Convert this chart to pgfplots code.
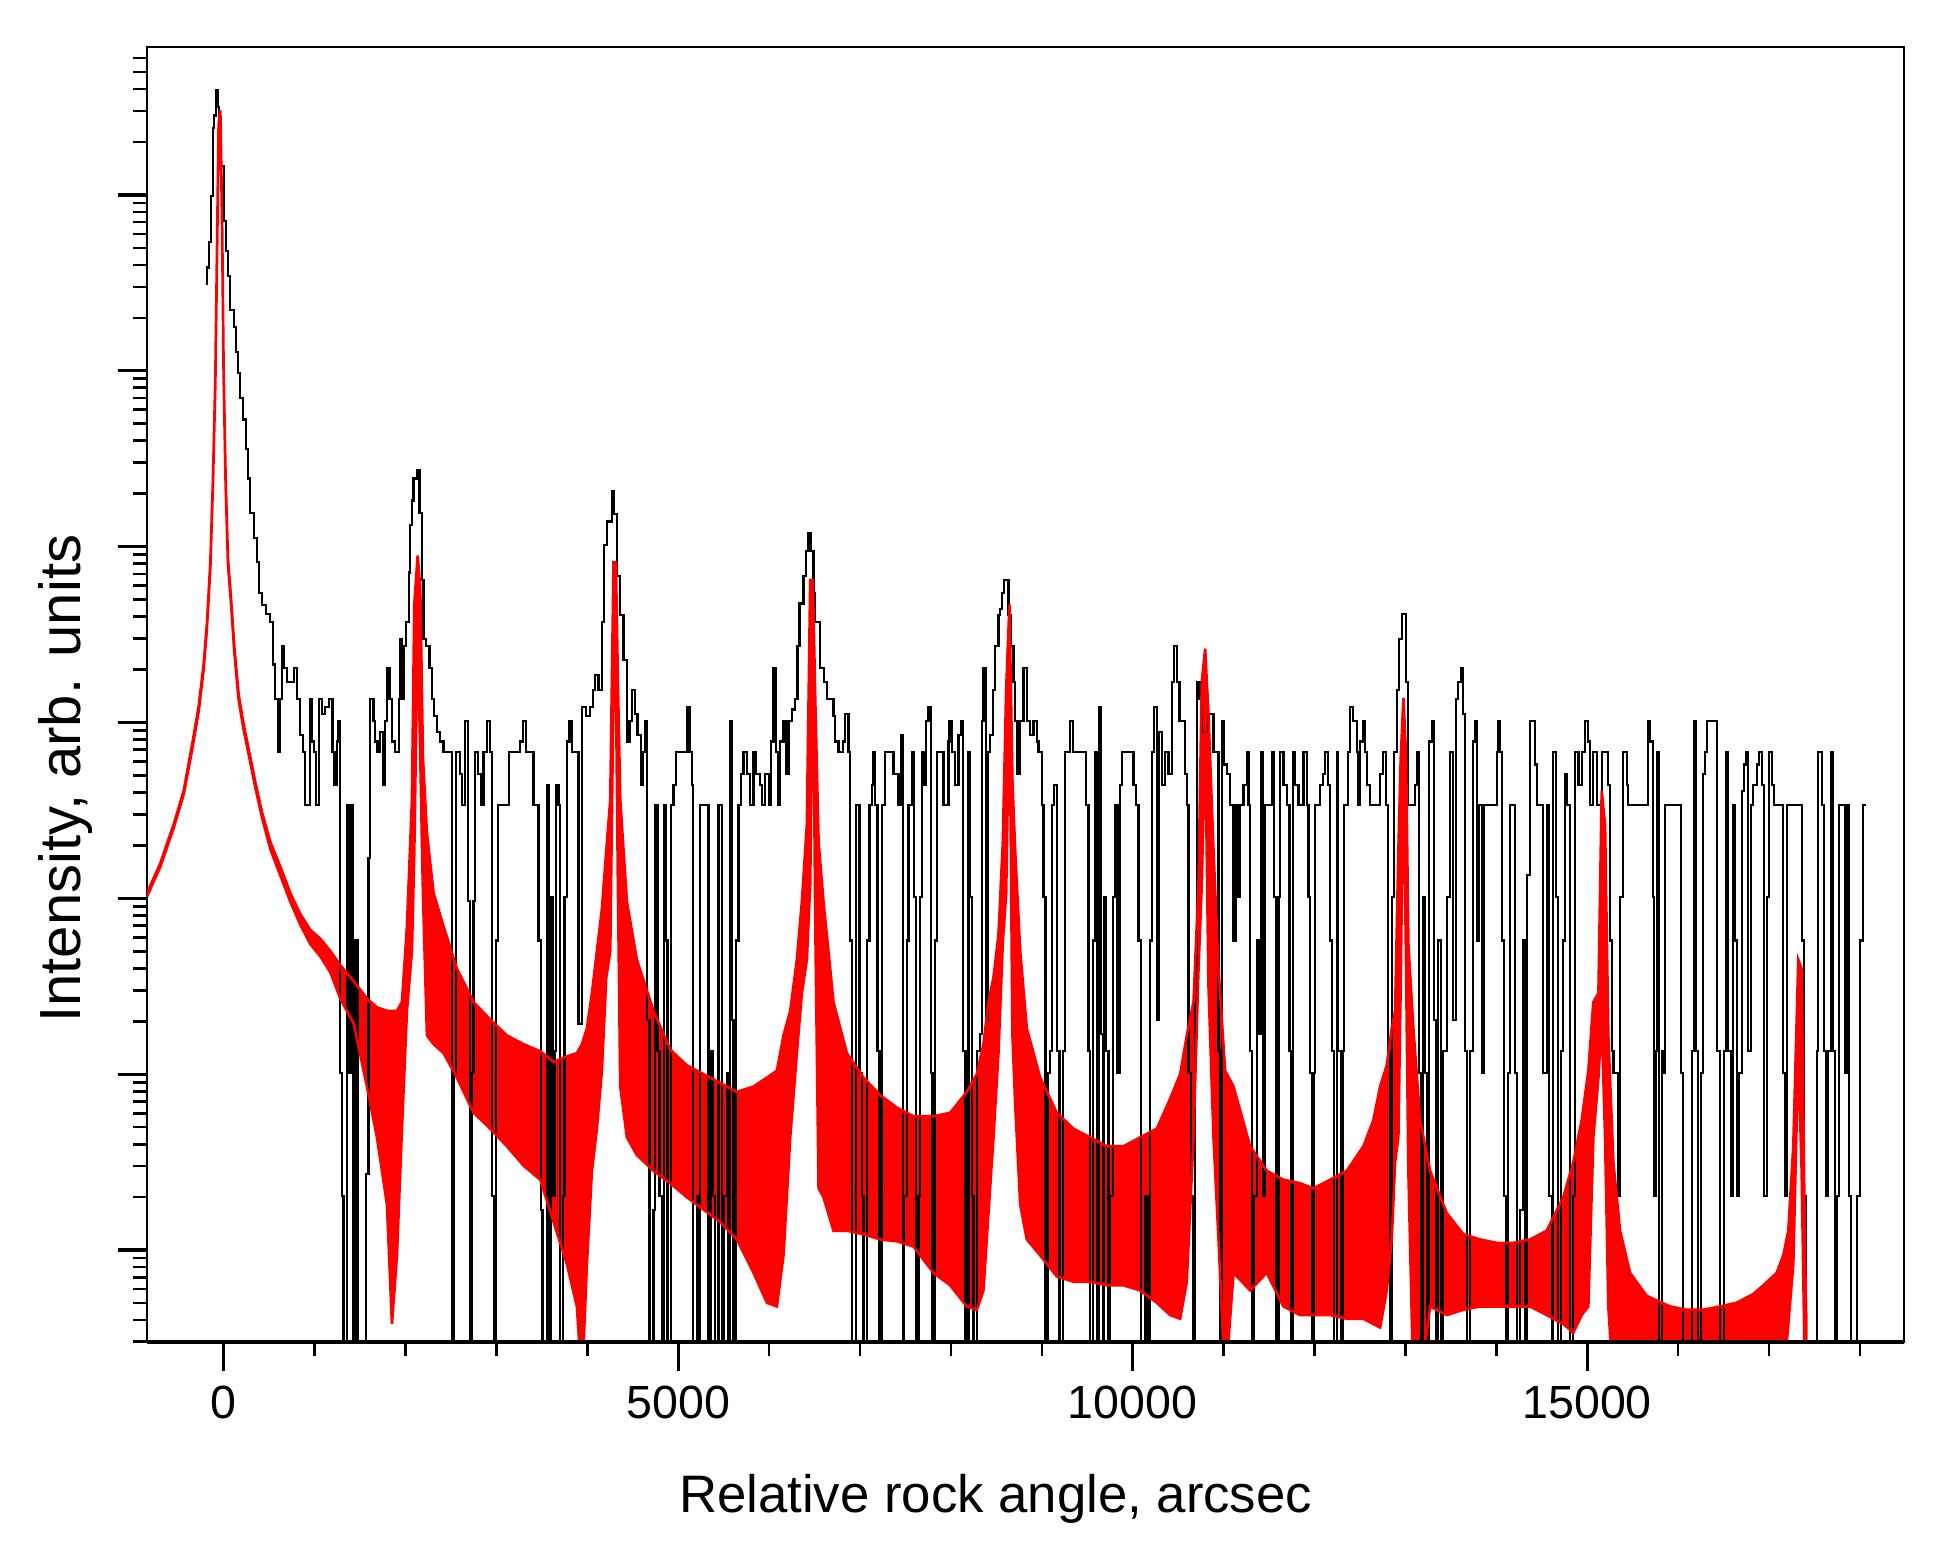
\documentclass[border=0pt]{standalone}
\usepackage{fontspec}
\setmainfont{Liberation Sans}
\usepackage{pgfplots}
\usepackage{pgfplotstable}
\pgfplotsset{compat=1.18}

% simulated curve: upper envelope (forward), then lower envelope (backward)
\pgfplotstableread{
x y
-845 0.316
-698 0.468
-552 0.776
-442 1.202
-350 2.188
-277 3.631
-222 6.31
-185 10.96
-148 23.99
-119 72.44
-93 269.2
-75 1413
-57 7413
-38 8913
-20 2455
-2 302
20 72.44
46 25.12
79 15.14
116 7.943
163 4.266
218 2.884
273 2.089
347 1.349
420 0.912
512 0.617
622 0.447
732 0.316
842 0.240
952 0.195
1062 0.174
1172 0.148
1282 0.123
1428 0.100
1575 0.0794
1685 0.0708
1795 0.0676
1850 0.0676
1905 0.0676
1960 0.0759
2015 0.204
2070 1.072
2096 13.8
2133 26.3
2162 16.98
2191 1.862
2235 0.692
2308 0.316
2418 0.204
2565 0.1175
2748 0.0759
2932 0.0603
3115 0.049
3298 0.0437
3482 0.0398
3628 0.0347
3775 0.0372
3885 0.0389
3940 0.0437
3995 0.0537
4050 0.0851
4105 0.148
4160 0.257
4208 0.550
4252 1.072
4288 23.99
4314 23.99
4336 5.012
4362 1.072
4435 0.282
4545 0.132
4728 0.0676
4912 0.0407
5095 0.0331
5278 0.0295
5462 0.0263
5645 0.0234
5828 0.0251
5975 0.0282
6085 0.0309
6158 0.049
6232 0.0676
6305 0.132
6360 0.282
6415 0.776
6452 19.05
6481 19.05
6507 4.074
6544 0.617
6598 0.282
6708 0.0759
6855 0.0389
7039 0.0282
7222 0.0224
7405 0.01905
7588 0.0170
7808 0.0170
7992 0.0178
8175 0.0234
8285 0.0295
8358 0.0437
8413 0.0759
8468 0.1047
8523 0.182
8571 0.617
8608 4.571
8644 13.8
8677 1.349
8707 0.550
8762 0.148
8835 0.0537
8982 0.0282
9165 0.0178
9348 0.01445
9532 0.0129
9715 0.01148
9898 0.01148
10082 0.0129
10265 0.01445
10412 0.0214
10522 0.0295
10595 0.049
10669 0.0759
10724 0.355
10760 5.012
10797 7.762
10834 3.236
10889 0.550
10944 0.1175
11017 0.0309
11109 0.0251
11292 0.01148
11475 0.00832
11658 0.00741
11842 0.00708
11988 0.00661
12172 0.00741
12355 0.00832
12538 0.01148
12648 0.0162
12722 0.0251
12795 0.0331
12850 0.0537
12887 0.0676
12923 0.550
12949 1.862
12979 4.074
13008 1.862
13033 0.162
13088 0.0537
13162 0.0162
13272 0.00832
13455 0.00479
13638 0.00363
13822 0.00339
14005 0.00324
14188 0.00324
14372 0.00339
14555 0.0038
14738 0.00589
14848 0.00933
14940 0.0162
15013 0.0309
15068 0.0759
15124 0.0851
15160 1.202
15197 0.776
15233 0.049
15288 0.00933
15362 0.0038
15472 0.00219
15655 0.00162
15912 0.00141
16095 0.00135
16278 0.00135
16462 0.00141
16645 0.00148
16828 0.00166
16938 0.00186
17085 0.00219
17158 0.00275
17213 0.0038
17268 0.01148
17323 0.132
17360 0.1175
17397 0.00275
17410 0.00126
17410 0.0004
17397 0.0005
17360 0.00832
17323 0.0389
17268 0.00245
17213 0.00112
17158 0.0005
17085 0.0005
16938 0.0005
16828 0.0005
16645 0.0005
16462 0.0005
16278 0.0005
16095 0.0005
15912 0.0005
15655 0.0005
15472 0.0005
15362 0.0005
15288 0.0005
15233 0.00141
15197 0.0129
15160 0.0603
15124 0.0282
15068 0.0129
15013 0.00141
14940 0.00126
14848 0.001
14738 0.00112
14555 0.00126
14372 0.00141
14188 0.00141
14005 0.00141
13822 0.00141
13638 0.00135
13455 0.00126
13272 0.00141
13162 0.0005
13088 0.0005
13033 0.00832
13008 0.1175
12979 1.862
12949 0.1
12923 0.0129
12887 0.00933
12850 0.00339
12795 0.00174
12722 0.00107
12648 0.00112
12538 0.0012
12355 0.0012
12172 0.00126
11988 0.00126
11842 0.00126
11658 0.00141
11475 0.00219
11292 0.00174
11109 0.00219
11017 0.0005
10944 0.00339
10889 0.0129
10834 0.0933
10797 2.63
10760 0.355
10724 0.1175
10669 0.0129
10595 0.00195
10522 0.0012
10412 0.00126
10265 0.00148
10082 0.00174
9898 0.00186
9715 0.00186
9532 0.00195
9348 0.00195
9165 0.00209
8982 0.00275
8835 0.00339
8762 0.00537
8707 0.01995
8677 0.049
8644 4.571
8608 0.316
8571 0.166
8523 0.0389
8468 0.0129
8413 0.00479
8358 0.00174
8285 0.00135
8175 0.00141
7992 0.00186
7808 0.00219
7588 0.00309
7405 0.00331
7222 0.00339
7039 0.00363
6855 0.0038
6708 0.0038
6598 0.00589
6544 0.00661
6507 0.229
6481 9.77
6452 0.355
6415 0.132
6360 0.0851
6305 0.0389
6232 0.0129
6158 0.00275
6085 0.00141
5975 0.00148
5828 0.00219
5645 0.00339
5462 0.00427
5278 0.00501
5095 0.00589
4912 0.00708
4728 0.00832
4545 0.01023
4435 0.0129
4362 0.0251
4336 0.355
4314 5.012
4288 5.012
4252 0.148
4208 0.1047
4160 0.0309
4105 0.01445
4050 0.00832
3995 0.00245
3940 0.0005
3885 0.00141
3775 0.00245
3628 0.00427
3482 0.00741
3298 0.00891
3115 0.01148
2932 0.01445
2748 0.0178
2565 0.0282
2418 0.0389
2308 0.0437
2235 0.049
2191 0.316
2162 1.862
2133 10.0
2096 0.550
2070 0.148
2015 0.0676
1960 0.01445
1905 0.00275
1850 0.00112
1795 0.00537
1685 0.0129
1575 0.0251
1428 0.0575
1282 0.0794
1172 0.112
1062 0.138
952 0.162
842 0.209
732 0.282
622 0.398
512 0.562
420 0.851
347 1.259
273 1.950
218 2.692
163 3.981
116 7.413
79 14.13
46 23.44
20 67.61
-2 281.8
-20 2239
-38 7943
-57 6310
-75 1259
-93 251.2
-119 67.61
-148 22.39
-185 10.23
-222 5.888
-277 3.388
-350 2.042
-442 1.148
-552 0.741
-698 0.447
-845 0.302
}\redtab

% measured curve (step data)
\pgfplotstableread{
x y
-196 914
-181 1140
-163 1590
-141 2920
-119 7070
-104 8350
-90 11640
-68 9330
-50 7480
-38 4300
-2 2094
27 1422
49 1020
72 656
108 526
134 378
152 286
182 206
207 156
248 106
266 72
292 46
328 33
365 24
391 16
420 13.7
468 12.2
512 11
541 6.3
567 4
592 2
614 4
636 8
666 6
695 5
768 6
805 4
842 2.5
871 2
897 1
952 4
970 2.3
988 2
1014 1
1051 4
1080 3.3
1117 3.6
1153 4
1197 2
1219 1.3
1245 2.3
1263 3
1282 0.03
1300 0.006
1318 0.0001
1355 1
1381 0.03
1403 1
1421 0.0001
1447 0.17
1472 0.0001
1568 0.008
1593 0.5
1612 4
1648 3
1667 2.3
1692 2
1722 2.6
1751 1.3
1777 3
1795 6
1824 4
1850 2.3
1887 2
1924 4
1942 8.8
1960 4
1986 8
2008 11
2034 21
2052 39
2070 54
2088 72
2125 80
2154 46
2180 19
2198 8.8
2228 8
2264 6
2290 4
2316 3.2
2345 2.6
2382 2.3
2418 2
2510 0.0001
2536 0.03
2558 2
2595 1.5
2620 1
2657 3
2686 0.285
2705 0.0001
2730 0.03
2748 0.285
2767 2
2793 1.5
2829 1
2858 2
2895 3
2925 2
2950 0.006
2976 0.0001
2998 0.17
3016 1
3134 2
3262 2.3
3291 3
3328 2
3408 1
3463 0.17
3489 0.005
3507 0.0001
3555 1.3
3577 0.0001
3599 0.3
3617 0.006
3639 0.04
3658 1.3
3683 1
3702 0.0001
3731 0.006
3749 0.3
3775 2.3
3804 3
3830 2
3903 0.057
3940 3.6
3988 3.2
4031 3.6
4061 4.5
4087 5.5
4123 4.5
4160 11
4186 30
4215 41
4270 61
4296 45
4325 20
4362 12
4398 6.7
4435 2.3
4464 3
4490 4.5
4527 3.3
4552 2.5
4589 1.3
4611 2
4637 3
4655 0.06
4684 0.0001
4728 0.005
4747 1
4772 0.04
4794 0.006
4820 0.0001
4846 1
4864 0.17
4882 0.0001
4919 1
4948 1.3
4978 2
5102 3.6
5124 2
5150 1.3
5161 0.0001
5205 0.006
5223 0.0001
5242 1
5333 0.0001
5359 0.04
5381 0.006
5407 0.0001
5443 1
5480 0.0001
5506 0.006
5535 0.03
5553 0.0001
5572 3
5590 0.06
5608 0.0001
5638 0.17
5663 1
5689 1.5
5718 2
5755 1.5
5792 1
5828 2
5858 1.5
5895 1.3
5920 1
5957 1.5
5994 1
6019 2.3
6048 6
6078 2
6103 1
6122 2.3
6158 3
6188 1.5
6213 3
6250 3.5
6287 4
6312 8
6334 14
6378 20
6408 28
6434 35
6463 28
6489 16
6507 11
6562 6
6606 5
6635 4
6708 3.2
6727 2.3
6764 2
6811 2.3
6837 3.3
6874 2
6892 0.17
6910 0.0001
6958 1
6995 0.03
7020 0.006
7039 0.0001
7075 0.17
7105 1
7130 1.3
7149 2
7167 1
7192 0.04
7215 0.0001
7240 1
7277 2
7368 1.5
7424 1
7449 2.5
7471 0.0001
7486 0.006
7515 0.17
7533 1
7570 2
7596 0.3
7618 0.0001
7643 0.006
7662 0.3
7680 2
7705 1.3
7728 3
7753 3.6
7779 0.03
7797 0.0001
7827 0.17
7845 2
7918 1
7973 2.3
7984 3
8010 2
8047 1.3
8083 2.5
8109 3
8131 0.04
8160 0.0001
8193 2
8211 0.3
8230 0.006
8248 0.0001
8285 0.04
8322 0.05
8340 3
8358 6
8388 0.06
8406 2
8431 2.5
8461 4.5
8487 8
8523 12
8542 13
8560 16
8586 19
8633 12
8659 8
8688 5
8707 3
8732 1.5
8762 3
8798 6
8835 3
8872 2.5
8908 3
8945 2.3
8963 2
9000 1
9018 0.3
9040 0.0001
9062 0.03
9091 0.04
9110 1
9136 1.3
9165 0.04
9194 0.0001
9231 0.04
9257 2
9312 3
9341 2
9488 1
9513 0.04
9532 0.0001
9561 0.17
9587 2
9605 0.0001
9631 3.6
9649 0.05
9671 0.0001
9686 0.3
9708 0.04
9733 0.0001
9752 0.006
9781 0.3
9807 1
9832 0.03
9862 1.3
9880 2
10008 1.3
10038 1
10063 0.17
10089 0.0001
10137 0.006
10162 0.0001
10192 0.17
10210 2
10236 3.6
10265 0.06
10283 2.6
10320 1.3
10357 2
10393 1.5
10430 5
10456 8
10485 5
10515 3
10577 1.5
10595 1
10614 0.03
10639 0.006
10661 0.0001
10687 0.08
10705 5
10734 4
10760 2.6
10834 3.3
10889 2
10944 0.04
10962 0.0001
10980 3
11006 1.7
11035 1.5
11072 1
11109 0.17
11138 1
11153 0.3
11175 1
11219 1.3
11255 2
11273 1
11292 0.04
11310 0.0001
11336 0.006
11365 0.17
11394 0.05
11409 2
11431 0.006
11457 1
11530 2
11556 0.3
11578 0.0001
11604 0.3
11622 2
11658 1.3
11695 1
11724 0.04
11739 0.0001
11761 2
11787 1.3
11823 1
11878 2
11915 1
11933 0.3
11951 0.03
11970 0.0001
11988 0.03
12006 1
12062 1.3
12091 1.5
12117 2
12153 1.3
12172 0.17
12197 0.04
12216 0.0001
12245 2
12263 0.04
12289 0.0001
12311 0.04
12326 1
12373 2
12392 3.6
12428 3
12465 2
12483 1
12502 2.3
12531 3
12557 2
12582 1.3
12612 1
12722 1.5
12758 2
12788 1
12813 0.04
12832 0.0001
12850 0.3
12876 2
12905 4.5
12934 8.8
12960 12.2
13008 5
13033 1
13107 1.3
13125 2
13154 0.03
13169 0.0001
13198 0.3
13217 0.03
13235 0.0001
13264 2.3
13290 3
13316 0.06
13338 0.0001
13363 0.17
13389 0.0001
13418 0.04
13455 0.3
13492 2
13528 0.06
13558 4
13583 5
13609 6
13631 3.3
13657 0.04
13675 0.0001
13712 0.04
13741 2.3
13767 3
13785 0.17
13814 1
13840 0.03
13866 1
14005 2
14023 3
14042 2
14060 0.17
14086 0.006
14108 0.0001
14133 0.03
14152 1
14207 0.03
14232 0.0001
14262 0.005
14291 0.17
14317 0.0001
14342 0.4
14372 3
14427 1.7
14445 1
14518 0.03
14555 1
14584 0.006
14610 0.0001
14628 2
14658 0.3
14683 0.0001
14709 0.04
14731 0.17
14757 1.5
14782 1
14812 0.0001
14841 0.006
14867 2
14904 1.3
14940 2
14977 3
15013 2.3
15032 1
15068 2
15105 1
15160 2
15233 1.3
15252 0.17
15270 0.04
15289 0.03
15344 0.006
15362 0.3
15398 2
15435 1.3
15453 1
15666 3
15692 2.3
15721 0.3
15739 0.006
15758 0.04
15772 2
15794 0.0001
15820 0.04
15838 0.03
15857 1
16029 0.03
16058 0.0001
16150 0.04
16176 3
16198 0.04
16223 0.0001
16249 0.03
16271 1.5
16297 2
16322 3
16432 0.04
16462 0.0001
16506 0.04
16528 2
16553 0.04
16579 0.006
16601 1
16627 0.17
16652 0.006
16674 0.03
16700 1.2
16725 1.7
16748 2
16773 0.04
16799 1
16828 1.3
16865 1.7
16894 2
16920 1.3
16946 0.006
16975 0.3
17001 2
17030 1.3
17056 1
17158 0.03
17177 0.006
17195 1
17360 0.17
17386 0.006
17408 0.0001
17525 0.04
17543 2
17580 1
17606 0.04
17628 0.006
17653 0.04
17679 2
17701 0.04
17727 0.0001
17752 0.006
17774 1
17837 0.03
17855 1
17877 0.006
17899 0.0001
17972 0.006
18002 0.17
18031 1
18068 1
}\blacktab

\begin{document}
\begin{tikzpicture}
\useasboundingbox (-11.76mm,-16.32mm) rectangle (143.84mm,107.36mm);
\begin{axis}[
  at={(0,0)}, anchor=south west, scale only axis,
  width=140.56mm, height=103.6mm,
  xmin=-845, xmax=18486,
  ymode=log, ymin=0.000885, ymax=20460,
  scaled x ticks=false,
  xtick={0,5000,10000,15000}, xticklabels={0,5000,10000,15000},
  minor xtick={1000,2000,3000,4000,6000,7000,8000,9000,11000,12000,13000,14000,16000,17000,18000},
  ytick={0.00295,0.0295,0.295,2.95,29.5,295,2950}, yticklabels={},
  minor ytick={0.00089,0.00118,0.001475,0.00177,0.002065,0.00236,0.002655,
    0.0059,0.00885,0.0118,0.01475,0.0177,0.02065,0.0236,0.02655,
    0.059,0.0885,0.118,0.1475,0.177,0.2065,0.236,0.2655,
    0.59,0.885,1.18,1.475,1.77,2.065,2.36,2.655,
    5.9,8.85,11.8,14.75,17.7,20.65,23.6,26.55,
    59,88.5,118,147.5,177,206.5,236,265.5,
    590,885,1180,1475,1770,2065,2360,2655,
    5900,8850,11800,14750,17700},
  tick align=outside, xtick pos=bottom, ytick pos=left,
  major tick length=2.3mm, minor tick length=1.1mm,
  every major tick/.append style={line width=0.75pt, black},
  every minor tick/.append style={line width=0.6pt, black},
  axis line style={line width=0.6pt},
  xlabel={Relative rock angle, arcsec},
  ylabel={Intensity, arb. units},
  xlabel style={at={(axis description cs:0.483,-0.132)}, anchor=base, font=\fontsize{12}{14}\selectfont},
  ylabel style={at={(axis description cs:-0.038,0.435)}, anchor=base, font=\fontsize{13.2}{15}\selectfont},
  xticklabel style={font=\fontsize{10.6}{12}\selectfont},
]
\addplot[fill=red, draw=none] table[x=x, y=y] \redtab;
\addplot[black, line width=0.5pt, const plot] table[x=x, y=y] \blacktab;
\addplot[red, line width=0.6pt] table[x=x, y=y] \redtab;
\end{axis}
\draw[line width=1.1pt] (0,0) -- (140.56mm,0);
\end{tikzpicture}
\end{document}
